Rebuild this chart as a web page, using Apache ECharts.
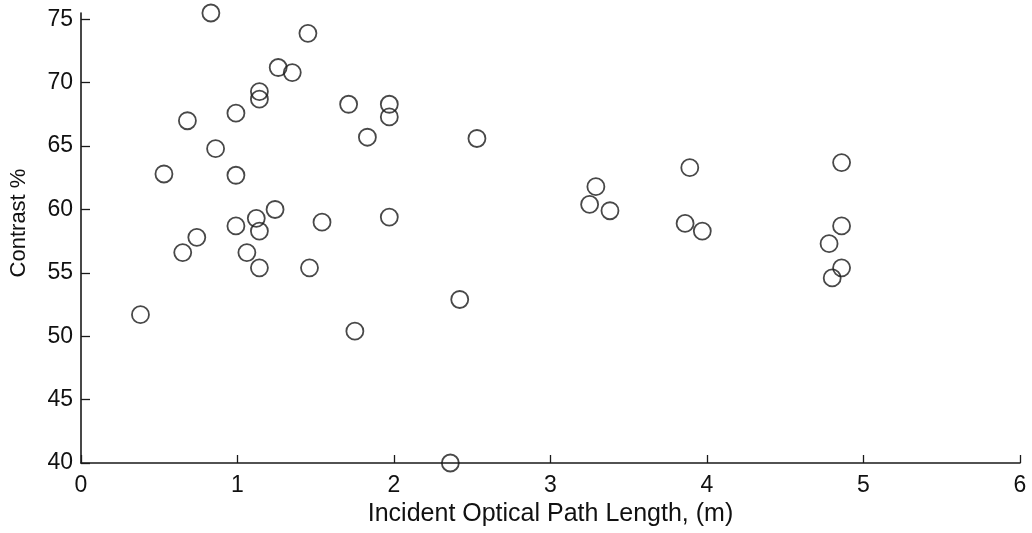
<!DOCTYPE html>
<html>
<head>
<meta charset="utf-8">
<script src="https://cdn.jsdelivr.net/npm/echarts@6/dist/echarts.min.js"></script>
<style>
html,body{margin:0;padding:0;background:#fff;}
#chart{width:1032px;height:533px;}
</style>
</head>
<body>
<div id="chart"></div>
<script>
// Incident optical path length (m)
const pathLength = [0.83, 1.45, 1.26, 1.35, 1.14, 1.14, 0.68, 0.99, 1.71, 0.86,
  0.53, 0.99, 1.24, 1.12, 0.99, 1.54, 1.14, 0.74, 0.65, 1.06,
  1.14, 1.46, 0.38, 1.75, 2.42, 2.36, 1.97, 1.97, 1.83, 2.53,
  1.97, 3.29, 3.25, 3.38, 3.89, 3.86, 3.97, 4.86, 4.86, 4.78,
  4.86, 4.80];
// Contrast %
const contrast = [75.5, 73.9, 71.2, 70.8, 69.3, 68.7, 67.0, 67.6, 68.3, 64.8,
  62.8, 62.7, 60.0, 59.3, 58.7, 59.0, 58.3, 57.8, 56.6, 56.6,
  55.4, 55.4, 51.7, 50.4, 52.9, 40.0, 68.3, 67.3, 65.7, 65.6,
  59.4, 61.8, 60.4, 59.9, 63.3, 58.9, 58.3, 63.7, 58.7, 57.3,
  55.4, 54.6];
const xTicks = [0, 1, 2, 3, 4, 5, 6];
const yTicks = [40, 45, 50, 55, 60, 65, 70, 75];
const xTitle = 'Incident Optical Path Length, (m)';
const yTitle = 'Contrast %';

const points = pathLength.map((x, i) => [x, contrast[i]]);
const FONT = '"Liberation Sans", Arial, Helvetica, sans-serif';
const AX = '#1a1a1a';

const chart = echarts.init(document.getElementById('chart'), null, {renderer: 'canvas'});
chart.setOption({
  animation: false,
  backgroundColor: '#fff',
  grid: {left: 80, right: 12, top: 13, bottom: 70, containLabel: false},
  xAxis: {
    type: 'value',
    min: xTicks[0], max: xTicks[xTicks.length - 1], interval: 1,
    name: xTitle,
    nameLocation: 'middle',
    nameGap: 33,
    nameTextStyle: {fontFamily: FONT, fontSize: 25, color: '#111'},
    axisLine: {show: true, lineStyle: {color: AX, width: 1.6}},
    axisTick: {show: true, inside: true, length: 8, lineStyle: {color: AX, width: 1.3}},
    axisLabel: {fontFamily: FONT, fontSize: 23, color: '#111', margin: 11},
    splitLine: {show: false}
  },
  yAxis: {
    type: 'value',
    min: yTicks[0], max: 75.5, interval: 5,
    name: yTitle,
    nameLocation: 'middle',
    nameGap: 51,
    nameRotate: 90,
    nameTextStyle: {fontFamily: FONT, fontSize: 22, color: '#111', padding: [0, 0, 0, 30]},
    axisLine: {show: true, lineStyle: {color: AX, width: 1.6}},
    axisTick: {show: true, inside: true, length: 9, lineStyle: {color: AX, width: 1.3}, customValues: yTicks},
    axisLabel: {fontFamily: FONT, fontSize: 23, color: '#111', margin: 8, customValues: yTicks},
    splitLine: {show: false}
  },
  series: [{
    type: 'scatter',
    data: points,
    clip: false,
    symbol: 'circle',
    symbolSize: 17,
    itemStyle: {color: 'rgba(255,255,255,0)', borderColor: '#1a1a1a', borderWidth: 1.8}
  }]
});
</script>
</body>
</html>
